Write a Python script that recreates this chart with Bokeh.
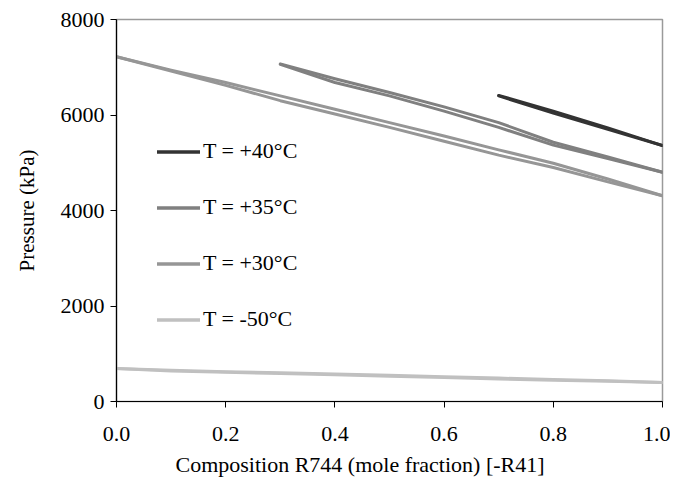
from bokeh.plotting import figure
from bokeh.models import Range1d, FixedTicker, NumeralTickFormatter, Legend, LegendItem, Title
from bokeh.embed import file_html
from bokeh.resources import INLINE

# Composition (mole fraction R744)
x_m50 = [0.0, 0.1, 0.2, 0.3, 0.4, 0.5, 0.6, 0.7, 0.8, 0.9, 1.0]
p_m50_bub = [690, 655, 625, 600, 575, 550, 520, 490, 460, 435, 400]
p_m50_dew = [690, 640, 610, 585, 560, 530, 500, 470, 445, 425, 400]

x_30 = [0.0, 0.1, 0.2, 0.3, 0.4, 0.5, 0.6, 0.7, 0.8, 0.9, 1.0]
p_30_bub = [7220, 6940, 6680, 6400, 6120, 5840, 5560, 5270, 4990, 4660, 4310]
p_30_dew = [7220, 6920, 6620, 6300, 6020, 5740, 5450, 5160, 4900, 4600, 4310]

x_35 = [0.3, 0.4, 0.5, 0.6, 0.7, 0.8, 0.9, 1.0]
p_35_bub = [7070, 6760, 6470, 6170, 5840, 5430, 5120, 4800]
p_35_dew = [7060, 6680, 6400, 6080, 5740, 5370, 5090, 4800]

x_40 = [0.7, 0.8, 0.9, 1.0]
p_40_bub = [6410, 6080, 5730, 5360]
p_40_dew = [6400, 6040, 5700, 5360]

labels = ["T = +40\u00b0C", "T = +35\u00b0C", "T = +30\u00b0C", "T = -50\u00b0C"]
colors = ["#333333", "#808080", "#969696", "#c0c0c0"]

x_ticks = [0.0, 0.2, 0.4, 0.6, 0.8, 1.0]
y_ticks = [0, 2000, 4000, 6000, 8000]

FONT = "Liberation Serif"

p = figure(width=670, height=485, output_backend="svg", toolbar_location=None,
           x_range=Range1d(0, 1), y_range=Range1d(0, 8000),
           min_border_left=116, min_border_right=8, min_border_top=19, min_border_bottom=84)

p.xgrid.visible = False
p.ygrid.visible = False
p.outline_line_color = "#9a9a9a"
p.outline_line_width = 1.5
p.background_fill_color = "white"
p.border_fill_color = "white"

series = [(x_40, p_40_bub, p_40_dew), (x_35, p_35_bub, p_35_dew),
          (x_30, p_30_bub, p_30_dew), (x_m50, p_m50_bub, p_m50_dew)]
items = []
for (xs, pb, pd), lab, c in zip(series, labels, colors):
    r1 = p.line(xs, pb, line_color=c, line_width=3, line_cap="round", line_join="round")
    r2 = p.line(xs, pd, line_color=c, line_width=3, line_cap="round", line_join="round")
    items.append(LegendItem(label=lab, renderers=[r1, r2]))

legend = Legend(items=items, location=(41, 69), padding=0, margin=0, spacing=30,
                glyph_width=43, glyph_height=25, label_height=25, label_standoff=3,
                border_line_color=None, background_fill_alpha=0,
                label_text_font=FONT, label_text_font_size="22px", label_text_color="black")
p.add_layout(legend, "center")

for ax in (p.xaxis[0], p.yaxis[0]):
    ax.axis_line_color = "black"
    ax.axis_line_width = 1.2
    ax.major_tick_line_color = "black"
    ax.major_tick_out = 6
    ax.major_tick_in = 0
    ax.minor_tick_line_color = None
    ax.major_label_text_font = FONT
    ax.major_label_text_font_size = "22px"
    ax.major_label_text_color = "black"
    ax.axis_label_text_font = FONT
    ax.axis_label_text_font_size = "21px"
    ax.axis_label_text_font_style = "normal"
    ax.axis_label_text_color = "black"

p.xaxis.ticker = FixedTicker(ticks=x_ticks)
p.yaxis.ticker = FixedTicker(ticks=y_ticks)
p.xaxis.formatter = NumeralTickFormatter(format="0.0")
p.xaxis.major_label_standoff = 19
p.yaxis.major_label_standoff = 6
p.yaxis.axis_label = "Pressure (kPa)"
p.yaxis.axis_label_standoff = 19

xtitle = Title(text="Composition R744 (mole fraction) [-R41]", align="left", offset=59,
               text_font=FONT, text_font_size="22px", text_font_style="normal",
               text_color="black", standoff=13)
p.add_layout(xtitle, "below")

open("out.html", "w").write(file_html(p, INLINE))
